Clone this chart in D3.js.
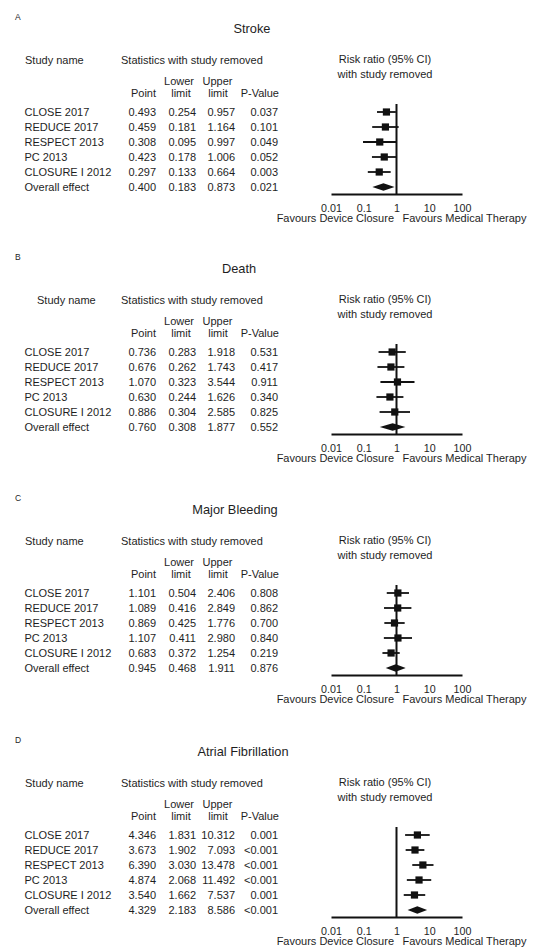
<!DOCTYPE html>
<html>
<head>
<meta charset="utf-8">
<script src="https://cdn.jsdelivr.net/npm/d3@7"></script>
<style>
  body { margin: 0; background: #fff; }
  text { font-family: "Liberation Sans", Arial, sans-serif; fill: #1e1e1e; }
</style>
</head>
<body>
<script>
// ---- data ----
const studies = ["CLOSE 2017", "REDUCE 2017", "RESPECT 2013", "PC 2013", "CLOSURE I 2012", "Overall effect"]
const panelLetters = ["A", "B", "C", "D"]
const outcomes = ["Stroke", "Death", "Major Bleeding", "Atrial Fibrillation"]

const strokePoint = [0.493, 0.459, 0.308, 0.423, 0.297, 0.400]
const strokeLower = [0.254, 0.181, 0.095, 0.178, 0.133, 0.183]
const strokeUpper = [0.957, 1.164, 0.997, 1.006, 0.664, 0.873]
const strokeP = ["0.037", "0.101", "0.049", "0.052", "0.003", "0.021"]

const deathPoint = [0.736, 0.676, 1.070, 0.630, 0.886, 0.760]
const deathLower = [0.283, 0.262, 0.323, 0.244, 0.304, 0.308]
const deathUpper = [1.918, 1.743, 3.544, 1.626, 2.585, 1.877]
const deathP = ["0.531", "0.417", "0.911", "0.340", "0.825", "0.552"]

const bleedPoint = [1.101, 1.089, 0.869, 1.107, 0.683, 0.945]
const bleedLower = [0.504, 0.416, 0.425, 0.411, 0.372, 0.468]
const bleedUpper = [2.406, 2.849, 1.776, 2.980, 1.254, 1.911]
const bleedP = ["0.808", "0.862", "0.700", "0.840", "0.219", "0.876"]

const afPoint = [4.346, 3.673, 6.390, 4.874, 3.540, 4.329]
const afLower = [1.831, 1.902, 3.030, 2.068, 1.662, 2.183]
const afUpper = [10.312, 7.093, 13.478, 11.492, 7.537, 8.586]
const afP = ["0.001", "<0.001", "<0.001", "<0.001", "0.001", "<0.001"]

const tickValues = [0.01, 0.1, 1, 10, 100]
const tickLabels = ["0.01", "0.1", "1", "10", "100"]

// ---- layout ----
const PANEL_TOP = [0, 240, 481, 723]
const TITLE_X = [252, 239, 235, 243]
const HEADER_X = [25, 37, 25, 25]
const FS = "11px"

const panels = [
  { point: strokePoint, lower: strokeLower, upper: strokeUpper, p: strokeP },
  { point: deathPoint, lower: deathLower, upper: deathUpper, p: deathP },
  { point: bleedPoint, lower: bleedLower, upper: bleedUpper, p: bleedP },
  { point: afPoint, lower: afLower, upper: afUpper, p: afP }
]

const svg = d3.select("body").append("svg")
  .attr("width", 544)
  .attr("height", 947)

const x = d3.scaleLog().domain([0.01, 100]).range([331, 462])
const y = d3.scalePoint().domain(studies).range([112, 187])
const fmt = d3.format(".3f")

panels.forEach((p, i) => {
  const g = svg.append("g").attr("transform", `translate(0, ${PANEL_TOP[i]})`)

  const rows = studies.map((s, j) => ({
    name: s, point: p.point[j], lower: p.lower[j], upper: p.upper[j], pv: p.p[j], overall: j === studies.length - 1
  }))

  // panel letter and title
  g.append("text").attr("x", 15).attr("y", 19.5).attr("font-size", "8.5px").text(panelLetters[i])
  g.append("text").attr("x", TITLE_X[i]).attr("y", 33).attr("font-size", "12.8px")
    .attr("text-anchor", "middle").text(outcomes[i])

  // table headers
  g.append("text").attr("x", HEADER_X[i]).attr("y", 64).attr("font-size", FS).text("Study name")
  g.append("text").attr("x", 121).attr("y", 64).attr("font-size", FS).text("Statistics with study removed")
  g.append("text").attr("x", 179).attr("y", 85).attr("font-size", FS).attr("text-anchor", "middle").text("Lower")
  g.append("text").attr("x", 217.5).attr("y", 85).attr("font-size", FS).attr("text-anchor", "middle").text("Upper")
  g.append("text").attr("x", 156).attr("y", 97).attr("font-size", FS).attr("text-anchor", "end").text("Point")
  g.append("text").attr("x", 181).attr("y", 97).attr("font-size", FS).attr("text-anchor", "middle").text("limit")
  g.append("text").attr("x", 218).attr("y", 97).attr("font-size", FS).attr("text-anchor", "middle").text("limit")
  g.append("text").attr("x", 279).attr("y", 97).attr("font-size", FS).attr("text-anchor", "end").text("P-Value")

  g.append("text").attr("x", 385).attr("y", 63).attr("font-size", FS).attr("text-anchor", "middle").text("Risk ratio (95% CI)")
  g.append("text").attr("x", 385).attr("y", 78).attr("font-size", FS).attr("text-anchor", "middle").text("with study removed")

  // table rows
  const cols = [
    { x: 24.5, anchor: "start", val: d => d.name },
    { x: 156, anchor: "end", val: d => fmt(d.point) },
    { x: 196, anchor: "end", val: d => fmt(d.lower) },
    { x: 235, anchor: "end", val: d => fmt(d.upper) },
    { x: 278, anchor: "end", val: d => d.pv }
  ]
  cols.forEach(c => {
    g.selectAll(null).data(rows).enter().append("text")
      .attr("x", c.x)
      .attr("y", d => y(d.name) + 4)
      .attr("font-size", FS)
      .attr("text-anchor", c.anchor)
      .text(c.val)
  })

  // forest plot
  const axisY = y(studies[studies.length - 1]) + 7
  const axis = g.append("g")
    .attr("transform", `translate(0, ${axisY})`)
    .call(d3.axisBottom(x).tickValues(tickValues).tickFormat((d, k) => tickLabels[k])
      .tickSize(0).tickSizeOuter(0).tickPadding(10))
  axis.select(".domain").attr("stroke", "#111").attr("stroke-width", 2)
  axis.selectAll("text").attr("font-size", "10.7px").attr("font-family", "\"Liberation Sans\", Arial, sans-serif").attr("fill", "#1e1e1e")

  g.append("line")
    .attr("x1", x(1)).attr("x2", x(1))
    .attr("y1", y(studies[0]) - 8).attr("y2", axisY)
    .attr("stroke", "#111").attr("stroke-width", 2)

  const study = rows.filter(d => !d.overall)
  g.selectAll(".ci").data(study).enter().append("line")
    .attr("x1", d => x(d.lower)).attr("x2", d => x(d.upper))
    .attr("y1", d => y(d.name)).attr("y2", d => y(d.name))
    .attr("stroke", "#111").attr("stroke-width", 1.8)
  g.selectAll(".sq").data(study).enter().append("rect")
    .attr("x", d => x(d.point) - 3.6).attr("y", d => y(d.name) - 3.6)
    .attr("width", 7.2).attr("height", 7.2)
    .attr("fill", "#111")

  const ov = rows.filter(d => d.overall)
  g.selectAll(".dia").data(ov).enter().append("path")
    .attr("d", d => {
      const cy = y(d.name)
      return `M${x(d.lower)},${cy}L${x(d.point)},${cy - 3.7}L${x(d.upper)},${cy}L${x(d.point)},${cy + 3.7}Z`
    })
    .attr("fill", "#111")

  g.append("text").attr("x", x(1) - 2.5).attr("y", axisY + 28).attr("font-size", FS)
    .attr("text-anchor", "end").text("Favours Device Closure")
  g.append("text").attr("x", x(1) + 6).attr("y", axisY + 28).attr("font-size", FS)
    .attr("text-anchor", "start").text("Favours Medical Therapy")
})
</script>
</body>
</html>
